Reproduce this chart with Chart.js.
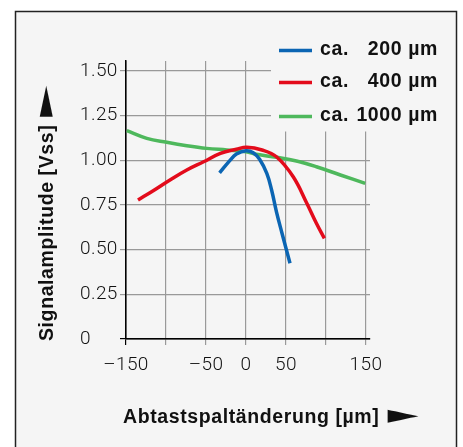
<!DOCTYPE html>
<html>
<head>
<meta charset="utf-8">
<script src="https://cdn.jsdelivr.net/npm/chart.js@4/dist/chart.umd.min.js"></script>
<style>
html, body { margin: 0; padding: 0; background: #fff; }
canvas { display: block; }
</style>
</head>
<body>
<canvas id="c" width="463" height="447"></canvas>
<script>
// values
const xTicks = [-150, -100, -50, 0, 50, 100, 150];
const xTickLabels = ['–150', '', '–50', '0', '50', '', '150'];
const yTicks = [0, 0.25, 0.5, 0.75, 1, 1.25, 1.5];
const yTickLabels = ['0', '0.25', '0.50', '0.75', '1.00', '1.25', '1.50'];

const seriesLabels = ['ca. 200 µm', 'ca. 400 µm', 'ca. 1000 µm'];
const seriesColors = ['#0b65b3', '#e30b1b', '#4eb85c'];

const blueX = [-33, -20, -12, 0, 9, 17, 26, 32, 38, 45, 55];
const blueY = [0.93, 1.0, 1.035, 1.054, 1.043, 1.006, 0.927, 0.834, 0.713, 0.592, 0.424];

const redX = [-135, -116, -95, -74, -53, -32, -12, 1, 20, 38, 59, 76, 88, 98];
const redY = [0.778, 0.83, 0.89, 0.946, 0.992, 1.039, 1.062, 1.073, 1.058, 1.02, 0.908, 0.76, 0.648, 0.563];

const greenX = [-149, -124, -99, -74, -49, -24, 0, 13, 38, 63, 88, 118, 149];
const greenY = [1.166, 1.123, 1.101, 1.082, 1.067, 1.058, 1.048, 1.034, 1.017, 0.996, 0.964, 0.918, 0.871];

const BG = '#f5f5f5';
const TITLE_FONT = 'bold 19.5px "Liberation Sans", Arial, sans-serif';
const ARROW_FONT = '26px "DejaVu Sans", sans-serif';
const toPts = (xs, ys) => xs.map((x, i) => ({x: x, y: ys[i]}));

const line = (i, xs, ys) => ({
    label: seriesLabels[i],
    data: toPts(xs, ys),
    borderColor: seriesColors[i],
    borderWidth: 3.5,
    pointRadius: 0,
    tension: 0.4,
    fill: false
});

// text followed by a stretched ► pointer, drawn along the current x direction
function titleWithArrow(ctx, text, x, y) {
    ctx.font = TITLE_FONT;
    ctx.letterSpacing = '0.6px';
    ctx.textAlign = 'left';
    ctx.fillText(text, x, y);
    const w = ctx.measureText(text).width;
    ctx.save();
    ctx.translate(x + w + 8, y - 0.5);
    ctx.scale(1.55, 1);
    ctx.letterSpacing = '0px';
    ctx.font = ARROW_FONT;
    ctx.fillText('►', 0, 0);
    ctx.restore();
}

// frame + panel background, legend, axis titles
const panel = {
    id: 'panel',
    beforeDraw(chart) {
        const ctx = chart.ctx;
        ctx.letterSpacing = '0.4px';
        ctx.save();
        ctx.fillStyle = '#fff';
        ctx.fillRect(0, 0, chart.width, chart.height);
        ctx.fillStyle = BG;
        ctx.fillRect(15, 11, 442, 450);
        ctx.strokeStyle = '#222';
        ctx.lineWidth = 1.5;
        ctx.strokeRect(15.5, 11.5, 441, 450);
        ctx.restore();
    },
    // legend sits on top of the grid, hide the grid under it
    beforeDatasetsDraw(chart) {
        const ctx = chart.ctx;
        ctx.save();
        ctx.fillStyle = BG;
        ctx.fillRect(271, 40, 120, 91.5);
        ctx.restore();
    },
    afterDraw(chart) {
        const ctx = chart.ctx;
        ctx.save();
        ctx.letterSpacing = '0.6px';
        ctx.fillStyle = '#111';
        ctx.font = TITLE_FONT;
        ctx.textBaseline = 'alphabetic';
        const rows = [55, 87, 121];
        chart.data.datasets.forEach((ds, i) => {
            const y = rows[i];
            ctx.strokeStyle = ds.borderColor;
            ctx.lineWidth = 3.5;
            ctx.beginPath();
            ctx.moveTo(279, y - 4.5);
            ctx.lineTo(312, y - 4.5);
            ctx.stroke();
            const sp = ds.label.indexOf(' ');
            ctx.textAlign = 'left';
            ctx.fillText(ds.label.slice(0, sp), 320, y);
            ctx.textAlign = 'right';
            ctx.fillText(ds.label.slice(sp + 1), 438, y);
        });

        titleWithArrow(ctx, 'Abtastspaltänderung [µm]', 123, 423);

        ctx.translate(53, 341);
        ctx.rotate(-Math.PI / 2);
        titleWithArrow(ctx, 'Signalamplitude [Vss]', 0, 0);
        ctx.restore();
    }
};

const tickFont = { family: 'Roboto, "Liberation Sans", sans-serif', size: 19, weight: 300 };

new Chart(document.getElementById('c'), {
    type: 'line',
    data: {
        datasets: [line(0, blueX, blueY), line(1, redX, redY), line(2, greenX, greenY)]
    },
    options: {
        responsive: false,
        animation: false,
        layout: { padding: { top: 61, right: 93, left: 80, bottom: 0 } },
        plugins: { legend: { display: false }, tooltip: { enabled: false } },
        scales: {
            x: {
                type: 'linear',
                min: -150,
                max: 155,
                afterBuildTicks: s => { s.ticks = xTicks.map(v => ({value: v})); },
                afterFit: s => { s.height = 108; },
                ticks: {
                    autoSkip: false,
                    maxRotation: 0,
                    padding: 9,
                    color: '#111',
                    font: tickFont,
                    callback: v => xTickLabels[xTicks.indexOf(v)]
                },
                grid: {
                    color: c => (c.tick && c.tick.value === -150) ? '#000' : '#999',
                    lineWidth: 1.2,
                    tickLength: 6
                },
                border: { color: '#000', width: 1.5 }
            },
            y: {
                min: 0,
                max: 1.556,
                afterBuildTicks: s => { s.ticks = yTicks.map(v => ({value: v})); },
                afterFit: s => { s.width = 46; },
                ticks: {
                    crossAlign: 'far',
                    padding: 1,
                    color: '#111',
                    font: tickFont,
                    callback: v => yTickLabels[yTicks.indexOf(v)]
                },
                grid: {
                    color: c => (c.tick && c.tick.value === 0) ? '#000' : '#999',
                    lineWidth: 1.2,
                    tickLength: 6
                },
                border: { color: '#000', width: 1.5 }
            }
        }
    },
    plugins: [panel]
});
</script>
</body>
</html>
